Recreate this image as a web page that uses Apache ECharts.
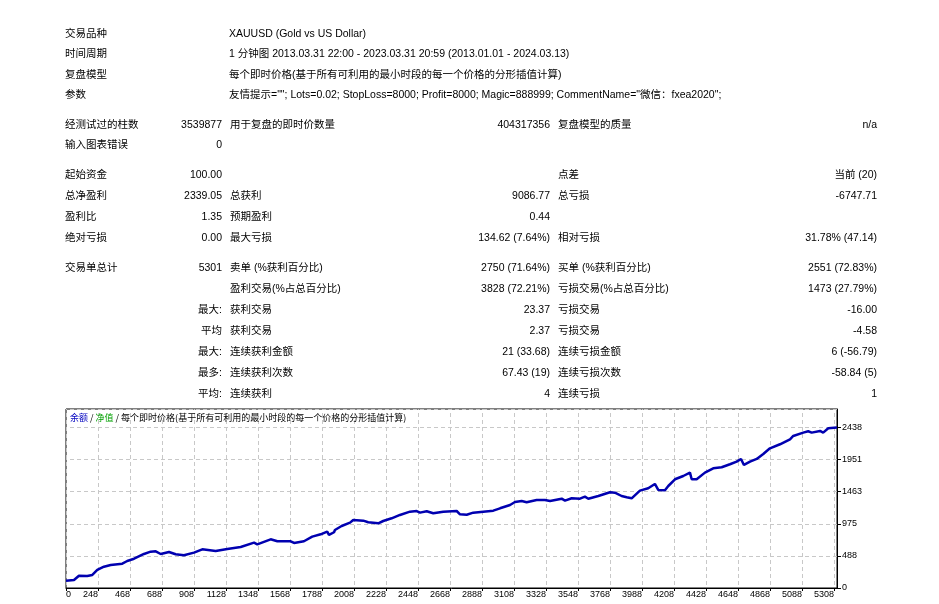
<!DOCTYPE html>
<html>
<head>
<meta charset="utf-8">
<script src="https://cdn.jsdelivr.net/npm/echarts@6/dist/echarts.min.js"></script>
<style>
  html, body { margin: 0; padding: 0; background: #fff; }
  #main { width: 939px; height: 604px; }
</style>
</head>
<body>
<div id="main"></div>
<script>
// report header
const headerLabels = ['交易品种', '时间周期', '复盘模型', '参数']
const headerValues = [
  'XAUUSD (Gold vs US Dollar)',
  '1 分钟图 2013.03.31 22:00 - 2023.03.31 20:59 (2013.01.01 - 2024.03.13)',
  '每个即时价格(基于所有可利用的最小时段的每一个价格的分形插值计算)',
  '友情提示=""; Lots=0.02; StopLoss=8000; Profit=8000; Magic=888999; CommentName="微信：fxea2020";'
]

// stats table: label1, value1, label2, value2, label3, value3
const statRows = [
  ['经测试过的柱数', '3539877', '用于复盘的即时价数量', '404317356', '复盘模型的质量', 'n/a'],
  ['输入图表错误', '0', '', '', '', ''],
  ['起始资金', '100.00', '', '', '点差', '当前 (20)'],
  ['总净盈利', '2339.05', '总获利', '9086.77', '总亏损', '-6747.71'],
  ['盈利比', '1.35', '预期盈利', '0.44', '', ''],
  ['绝对亏损', '0.00', '最大亏损', '134.62 (7.64%)', '相对亏损', '31.78% (47.14)'],
  ['交易单总计', '5301', '卖单 (%获利百分比)', '2750 (71.64%)', '买单 (%获利百分比)', '2551 (72.83%)'],
  ['', '', '盈利交易(%占总百分比)', '3828 (72.21%)', '亏损交易(%占总百分比)', '1473 (27.79%)'],
  ['', '最大:', '获利交易', '23.37', '亏损交易', '-16.00'],
  ['', '平均', '获利交易', '2.37', '亏损交易', '-4.58'],
  ['', '最大:', '连续获利金额', '21 (33.68)', '连续亏损金额', '6 (-56.79)'],
  ['', '最多:', '连续获利次数', '67.43 (19)', '连续亏损次数', '-58.84 (5)'],
  ['', '平均:', '连续获利', '4', '连续亏损', '1']
]

// balance curve (trade number, balance)
const tradeNo = [
  0, 55, 89, 146, 181, 215, 261, 307, 387, 421, 468, 536, 582, 617, 651, 708, 754, 811, 880, 937,
  1029, 1109, 1201, 1293, 1315, 1407, 1453, 1545, 1568, 1636, 1693, 1751, 1796, 1808, 1843, 1849, 1895, 1953, 1975, 2044,
  2078, 2147, 2181, 2239, 2296, 2365, 2411, 2434, 2480, 2525, 2594, 2686, 2709, 2755, 2800, 2869, 2938, 2984, 3053, 3087,
  3133, 3167, 3236, 3293, 3328, 3408, 3431, 3477, 3534, 3568, 3591, 3660, 3671, 3740, 3774, 3820, 3855, 3889, 3946, 4003,
  4049, 4072, 4118, 4141, 4187, 4244, 4290, 4302, 4336, 4393, 4450, 4508, 4565, 4611, 4641, 4661, 4703, 4749, 4794, 4840,
  4909, 4978, 5000, 5069, 5103, 5127, 5184, 5206, 5241, 5301
]
const balance = [
  112, 122, 187, 182, 198, 274, 324, 350, 369, 410, 445, 517, 552, 558, 517, 547, 512, 497, 537, 588,
  562, 593, 623, 689, 664, 740, 710, 710, 684, 710, 780, 816, 856, 806, 847, 882, 942, 993, 1034, 1023,
  999, 983, 1018, 1059, 1110, 1160, 1170, 1145, 1166, 1135, 1160, 1170, 1120, 1114, 1145, 1160, 1175, 1211, 1262, 1307,
  1322, 1303, 1338, 1338, 1322, 1357, 1327, 1363, 1357, 1388, 1357, 1398, 1388, 1455, 1449, 1398, 1379, 1363, 1479, 1515,
  1581, 1490, 1485, 1550, 1652, 1702, 1753, 1652, 1652, 1753, 1819, 1835, 1880, 1920, 1961, 1870, 1920, 1961, 2037, 2123,
  2184, 2260, 2310, 2361, 2382, 2361, 2386, 2361, 2427, 2439
]

const xTickLabels = ['0', '248', '468', '688', '908', '1128', '1348', '1568', '1788', '2008', '2228', '2448', '2668',
  '2888', '3108', '3328', '3548', '3768', '3988', '4208', '4428', '4648', '4868', '5088', '5308']
const yTickLabels = ['0', '488', '975', '1463', '1951', '2438']

const X_STEP = 220
const Y_STEP = 487.68
const FONT = '10.5px "Liberation Sans", "Noto Sans CJK SC", sans-serif'

const graphic = []
const addText = (x, y, text, align) => {
  if (!text) return
  graphic.push({
    type: 'text', x: x, y: y, silent: true,
    style: { text: text, font: FONT, fill: '#000', align: align || 'left', verticalAlign: 'middle' }
  })
}

const headerY = [34, 54.5, 75, 95.5]
headerLabels.forEach((t, i) => {
  addText(65, headerY[i], t)
  addText(229, headerY[i], headerValues[i])
})

const rowY = [124.7, 145, 175, 196, 217.3, 238.3, 268.3, 289, 310, 331, 352.3, 373.3, 394.3]
statRows.forEach((r, i) => {
  addText(65, rowY[i], r[0])
  addText(222, rowY[i], r[1], 'right')
  addText(230, rowY[i], r[2])
  addText(550, rowY[i], r[3], 'right')
  addText(558, rowY[i], r[4])
  addText(877, rowY[i], r[5], 'right')
})

// chart caption inside the plot
graphic.push({
  type: 'text', x: 70, y: 417.5, silent: true, z: 10,
  style: {
    text: '{b|余额} / {g|净值} / 每个即时价格(基于所有可利用的最小时段的每一个价格的分形插值计算)',
    font: '9px "Noto Sans CJK SC", sans-serif', fill: '#000', verticalAlign: 'middle',
    rich: {
      b: { fill: '#0000c0', font: '9px "Noto Sans CJK SC", sans-serif' },
      g: { fill: '#00a000', font: '9px "Noto Sans CJK SC", sans-serif' }
    }
  }
})

const chart = echarts.init(document.getElementById('main'), null, { renderer: 'canvas' })

chart.setOption({
  animation: false,
  backgroundColor: '#fff',
  grid: {
    left: 66, top: 409, right: 102, bottom: 16,
    show: true, borderColor: '#000', borderWidth: 1, backgroundColor: '#fff'
  },
  xAxis: {
    type: 'value',
    min: 0,
    max: 5301,
    interval: X_STEP,
    axisLine: { show: true, onZero: false, lineStyle: { color: '#000', width: 1 } },
    axisTick: { show: true, length: 3, lineStyle: { color: '#000' } },
    splitLine: { show: true, lineStyle: { color: '#c8c8c8', type: [4, 3], dashOffset: 3 } },
    axisLabel: {
      showMaxLabel: false,
      margin: 2,
      align: 'right',
      alignMinLabel: 'left',
      color: '#000',
      fontSize: 9,
      fontFamily: '"Liberation Sans", sans-serif',
      formatter: (v) => {
        const k = Math.round(v / X_STEP)
        return Math.abs(v - k * X_STEP) < 1 ? (xTickLabels[k] || '') : ''
      }
    }
  },
  yAxis: {
    type: 'value',
    position: 'right',
    min: 0,
    max: 2720,
    interval: Y_STEP,
    axisLine: { show: true, onZero: false, lineStyle: { color: '#000', width: 1 } },
    axisTick: { show: true, length: 4, lineStyle: { color: '#000' } },
    splitLine: { show: true, lineStyle: { color: '#c8c8c8', type: [4, 3], dashOffset: 3 } },
    axisLabel: {
      showMaxLabel: false,
      margin: 5,
      color: '#000',
      fontSize: 9,
      fontFamily: '"Liberation Sans", sans-serif',
      formatter: (v) => {
        const k = Math.round(v / Y_STEP)
        return Math.abs(v - k * Y_STEP) < 1 ? (yTickLabels[k] || '') : ''
      }
    }
  },
  series: [
    {
      name: '余额',
      type: 'line',
      data: tradeNo.map((t, i) => [t, balance[i]]),
      showSymbol: false,
      lineStyle: { color: '#0000b0', width: 2.5 },
      z: 5
    }
  ],
  graphic: graphic
})
</script>
</body>
</html>
